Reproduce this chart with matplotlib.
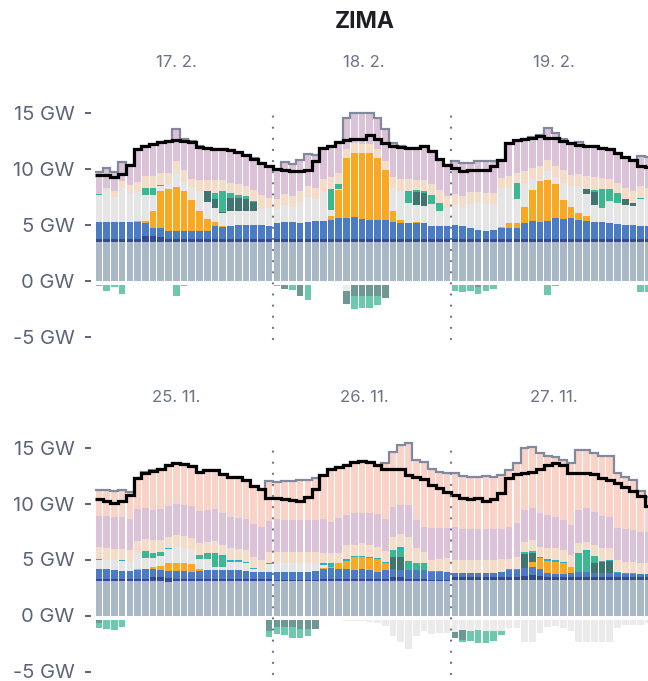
import matplotlib.pyplot as plt
import numpy as np

plt.rcParams['font.family'] = ['Inter', 'DejaVu Sans']

# colours of the stacked sources (bottom -> top)
c_nuclear = '#a9b8c7'
c_darkblue = '#34489b'
c_blue = '#4b7cc3'
c_solar = '#f9a824'
c_grey = '#e5e5e5'
c_darkteal = '#3f7571'
c_teal = '#3bb891'
c_cyan = '#23b1c3'
c_beige = '#f5dcc8'
c_lavender = '#dcc2d9'
c_pink = '#f9d2c8'

title = 'ZIMA'
feb_days = ['17. 2.', '18. 2.', '19. 2.']
nov_days = ['25. 11.', '26. 11.', '27. 11.']
ytick_vals = [-5, 0, 5, 10, 15]
ytick_labels = ['-5 GW', '0 GW', '5 GW', '10 GW', '15 GW']

# ---------------- February (GW per hour) ----------------
feb_nuclear = [3.4] * 72
feb_darkblue = [0.3, 0.3, 0.3, 0.3, 0.3, 0.3, 0.6, 0.6, 0.5, 0.3, 0.3, 0.3, 0.3, 0.3, 0.3, 0.3, 0.3, 0.3, 0.3, 0.3, 0.3, 0.3, 0.3,
                0.3, 0.3, 0.3, 0.3, 0.3, 0.3, 0.3, 0.35, 0.35, 0.35, 0.35, 0.35, 0.35, 0.35, 0.35, 0.35, 0.3, 0.3, 0.3, 0.3, 0.3, 0.3, 0.3,
                0.3, 0.3, 0.3, 0.3, 0.3, 0.3, 0.3, 0.3, 0.3, 0.35, 0.35, 0.35, 0.35, 0.35, 0.35, 0.35, 0.3, 0.3, 0.3, 0.3, 0.3, 0.3, 0.3, 0.3, 0.3, 0.3]
feb_blue = [1.5, 1.5, 1.5, 1.5, 1.5, 1.5, 1.15, 0.7, 0.8, 0.7, 0.7, 0.7, 0.7, 0.7, 0.75, 1.2, 1.05, 1.2, 1.25, 1.25, 1.25, 1.25, 1.2,
            1.45, 1.5, 1.5, 1.4, 1.5, 1.6, 1.6, 1.65, 1.8, 1.85, 1.95, 1.7, 1.65, 1.65, 1.65, 1.45, 1.45, 1.4, 1.4, 1.4, 1.2, 1.2, 1.2,
            1.3, 1.15, 1.0, 0.8, 0.7, 0.85, 1.0, 1.0, 1.0, 1.35, 1.55, 1.5, 1.55, 1.85, 1.75, 1.8, 1.7, 1.6, 1.5, 1.5, 1.4, 1.35, 1.3, 1.3, 1.15, 1.15]
feb_solar = [0, 0, 0, 0, 0, 0.1, 0.15, 1.55, 3.3, 3.75, 3.95, 3.6, 2.8, 1.8, 1.0, 0.35, 0.1, 0, 0, 0, 0, 0, 0,
             0, 0, 0, 0, 0, 0, 0, 0.35, 2.55, 5.3, 5.65, 5.9, 5.95, 5.5, 4.45, 1.0, 0.25, 0, 0.1, 0, 0, 0, 0,
             0, 0, 0, 0, 0, 0, 0.1, 0.4, 0.4, 1.5, 2.75, 3.65, 3.7, 3.05, 1.65, 1.05, 0.6, 0.5, 0.05, 0, 0, 0, 0, 0, 0, 0]
feb_grey = [2.45, 2.85, 2.25, 3.05, 2.6, 2.6, 2.35, 1.35, 0.45, 0.45, 1.25, 0.8, 1.15, 1.8, 1.6, 1.25, 1.15, 1.3, 1.25, 1.25, 1.25, 1.4, 1.6,
            1.2, 1.5, 1.35, 1.9, 2.25, 2.0, 2.7, 0.55, 0.1, 0, 0, 0, 0, 0, 0, 2.1, 2.6, 1.85, 1.5, 1.55, 1.95, 1.35, 1.6,
            1.7, 1.7, 2.1, 2.4, 2.4, 2.3, 3.45, 3.15, 2.2, 2.15, 0.95, 0.15, 0.75, 0.6, 1.6, 1.8, 2.4, 1.9, 1.45, 1.3, 2.0, 1.9, 1.7, 1.65, 2.45, 2.4]
feb_darkteal = [0, 0, 0, 0, 0, 0, 0, 0, 0, 0, 0, 0, 0, 0, 0.9, 0.75, 0.15, 1.2, 1.2, 1.05, 0.8, 0, 0,
                0, 0, 0, 0, 0, 0, 0, 0, 0, 0, 0, 0, 0, 0, 0, 0, 0, 0, 1.2, 1.15, 0, 0, 0,
                0, 0, 0, 0, 0, 0, 0, 0, 0, 0, 0, 0, 0, 0, 0, 0, 0, 0.5, 1.2, 0, 0, 0, 0.6, 0.3, 0, 0]
feb_teal = [0.05, 0.05, 0, 0, 0, 0, 0.65, 0.65, 0, 0, 0, 0, 0, 0, 0, 0.6, 1.8, 0.45, 0.2, 0.3, 0.1, 0, 0,
            0, 0.05, 0.05, 0, 0, 0, 0, 1.9, 0.4, 0, 0, 0, 0, 0, 0, 0, 0, 1.05, 0.15, 0.2, 0.8, 0.7, 0,
            0, 0.05, 0, 0, 0, 0, 0, 0, 1.4, 0, 0, 0, 0, 0, 0, 0, 0, 0, 0.2, 1.65, 1.05, 0.85, 0, 0, 0, 0]
feb_cyan = [0, 0, 0, 0, 0, 0, 0, 0, 0.05, 0, 0, 0, 0, 0, 0, 0, 0, 0, 0, 0, 0, 0, 0,
            0, 0, 0, 0, 0, 0, 0, 0, 0, 0, 0, 0, 0, 0, 0, 0, 0, 0, 0, 0, 0, 0, 0,
            0.05, 0, 0, 0, 0, 0, 0, 0, 0, 0, 0, 0, 0, 0, 0, 0, 0, 0, 0, 0, 0, 0, 0, 0, 0.05, 0]
feb_beige = [0, 0.15, 0.5, 0.6, 0.75, 0.9, 1.0, 1.05, 1.1, 1.0, 1.1, 1.05, 0.7, 1.0, 1.05, 1.1, 1.05, 0.9, 1.0, 0.9, 0.95, 1.25, 0.9,
             0.95, 1.0, 0.95, 1.0, 1.0, 1.0, 1.05, 1.0, 1.0, 0.8, 0.9, 0.8, 0.8, 0.85, 0.8, 0.9, 1.05, 1.05, 0.95, 1.0, 1.0, 1.1, 1.05,
             0.95, 0.95, 1.1, 1.0, 1.05, 1.0, 0.9, 1.05, 0.9, 1.05, 1.05, 1.2, 1.05, 1.0, 1.1, 1.0, 1.1, 1.1, 1.1, 1.0, 0.9, 0.95, 0.95, 1.05, 1.05, 1.0]
feb_lavender = [1.95, 1.8, 1.7, 1.75, 1.75, 2.95, 2.7, 2.9, 2.75, 2.85, 2.8, 2.8, 3.4, 3.0, 2.85, 2.8, 2.75, 2.9, 2.85, 2.8, 2.9, 2.9, 2.8,
                2.7, 2.85, 2.85, 2.75, 2.85, 2.95, 2.8, 2.8, 2.8, 2.8, 2.75, 2.85, 2.85, 2.75, 2.85, 3.1, 2.95, 2.8, 2.8, 3.0, 2.9, 2.75, 2.75,
                2.95, 2.95, 2.6, 2.75, 2.8, 2.8, 1.65, 2.95, 2.9, 2.8, 2.75, 2.7, 2.85, 2.9, 2.75, 2.9, 2.85, 2.75, 2.8, 2.7, 2.65, 2.65, 2.8, 2.75, 2.75, 2.75]
feb_pink = [0] * 72
feb_load = [9.46, 9.38, 9.26, 9.55, 10.3, 11.76, 12.05, 12.2, 12.35, 12.44, 12.53, 12.44, 12.35, 11.93, 11.85, 11.76, 11.76, 11.64, 11.46, 11.25, 10.86, 10.45, 10.2,
            10.0, 9.91, 9.76, 9.82, 9.91, 10.65, 11.84, 11.99, 12.35, 12.53, 12.65, 12.65, 12.95, 12.65, 12.29, 12.05, 11.9, 11.84, 11.84, 11.99, 11.55, 10.86, 10.27,
            10.06, 9.76, 9.85, 9.91, 9.91, 10.2, 10.8, 12.29, 12.53, 12.59, 12.74, 12.9, 12.74, 12.7, 12.44, 12.29, 12.14, 12.05, 12.0, 11.84, 11.7, 11.4, 11.04, 10.74, 10.21, 10.1]
# negative side (pumping / export), GW below zero
feb_neg_grey = [0] * 32 + [0.6] + [0] * 39
feb_neg_darkteal = [0, 0, 0, 0, 0, 0, 0, 0, 0, 0, 0, 0, 0, 0, 0, 0, 0, 0, 0, 0, 0, 0, 0,
                    0, 0.4, 0, 1.0, 0, 0, 0, 0, 0, 1.1, 1.0, 1.0, 1.0, 1.0, 1.15, 0, 0, 0, 0, 0, 0, 0, 0,
                    0, 0, 0, 0.25, 0, 0, 0, 0, 0, 0, 0, 0, 0, 0, 0, 0, 0, 0, 0, 0, 0, 0, 0, 0, 0, 0]
feb_neg_teal = [0.15, 0.55, 0.25, 0.85, 0, 0, 0, 0, 0, 0, 1.05, 0.1, 0, 0, 0, 0, 0, 0, 0, 0, 0, 0, 0,
                0.1, 0, 0.5, 0, 1.35, 0, 0, 0, 0, 0, 1.2, 1.1, 1.05, 0.8, 0, 0, 0, 0, 0, 0, 0, 0, 0,
                0.6, 0.7, 0.6, 0.55, 0.6, 0.4, 0, 0, 0, 0, 0, 0, 0.9, 0.15, 0, 0, 0, 0, 0, 0, 0, 0, 0, 0, 0.7, 0.7]

# ---------------- November (GW per hour) ----------------
nov_nuclear = [3.1] * 9 + [3.0] + [3.1] * 36 + [3.15] * 26
nov_darkblue = [0.12, 0.12, 0.12, 0.12, 0.12, 0.12, 0.12, 0.37, 0.3, 0.32, 0.13, 0.13, 0.13, 0.13, 0.2, 0.2, 0.2, 0.13, 0.13, 0.13, 0.13, 0.13, 0.13,
                0.1, 0.1, 0.1, 0.1, 0.1, 0.1, 0.15, 0.2, 0.2, 0.2, 0.2, 0.2, 0.2, 0.2, 0.2, 0.37, 0.37, 0.2, 0.2, 0.2, 0.1, 0.1, 0.1,
                0.3, 0.3, 0.3, 0.3, 0.3, 0.3, 0.3, 0.3, 0.3, 0.4, 0.45, 0.35, 0.3, 0.3, 0.3, 0.3, 0.3, 0.3, 0.3, 0.3, 0.3, 0.3, 0.3, 0.3, 0.3, 0.3]
nov_blue = [0.9, 0.9, 0.85, 0.77, 0.75, 0.83, 0.9, 0.65, 0.65, 0.68, 0.77, 0.77, 0.68, 0.77, 0.76, 0.76, 0.76, 0.83, 0.83, 0.77, 0.68, 0.68, 0.68,
            0.71, 0.71, 0.71, 0.71, 0.71, 0.75, 0.87, 0.9, 0.82, 0.82, 0.76, 0.82, 0.76, 0.61, 0.76, 0.65, 0.59, 0.76, 0.76, 0.76, 0.71, 0.71, 0.71,
            0.37, 0.37, 0.37, 0.37, 0.37, 0.37, 0.4, 0.61, 0.6, 0.66, 0.7, 0.62, 0.31, 0.3, 0.3, 0.35, 0.46, 0.4, 0.37, 0.37, 0.37, 0.37, 0.3, 0.3, 0.25, 0.25]
nov_solar = [0, 0, 0, 0, 0, 0.06, 0, 0.24, 0.36, 0.66, 0.71, 0.66, 0.66, 0.12, 0, 0, 0, 0, 0, 0, 0, 0, 0,
             0, 0, 0, 0, 0, 0, 0.15, 0.15, 0.54, 0.77, 1.19, 1.13, 1.04, 1.1, 0.6, 0, 0, 0, 0, 0, 0, 0, 0,
             0, 0, 0, 0, 0, 0, 0, 0, 0, 0, 0.51, 0.98, 1.13, 1.05, 0.96, 0.5, 0, 0, 0, 0, 0, 0, 0, 0, 0, 0]
nov_grey = [0.85, 0.83, 0.85, 0.9, 0.85, 1.45, 1.0, 0.75, 0.9, 1.27, 1.43, 1.33, 1.34, 0.92, 0.95, 0.25, 0.25, 0.74, 0.74, 0.66, 0.2, 0.12, 0.71,
            0.8, 0.8, 0.8, 0.75, 0.75, 0.7, 0.25, 0, 0, 0, 0, 0, 0, 0, 0, 0, 0, 0, 0, 0, 0, 0, 0,
            0, 0, 0, 0, 0, 0, 0, 0, 0, 0, 0, 0, 0, 0, 0, 0, 0, 0, 0, 0, 0, 0, 0, 0, 0, 0]
nov_darkteal = [0, 0, 0, 0, 0, 0, 0, 0, 0, 0, 0, 0, 0, 0, 0, 0, 0, 0, 0, 0, 0, 0, 0,
                0, 0, 0, 0, 0, 0, 0, 0, 0, 0, 0, 0, 0, 0, 0, 1.13, 1.19, 0, 0, 0, 0, 0, 0,
                0, 0, 0, 0, 0, 0, 0, 0, 0, 1.28, 0.74, 0, 0, 0, 0, 0, 0, 0, 0.89, 0.98, 1.07, 0, 0, 0, 0, 0]
nov_teal = [0, 0, 0, 0, 0, 0, 0.65, 0.45, 0.4, 0, 0, 0, 0, 0.36, 0.5, 1.2, 0.95, 0, 0, 0, 0, 0, 0,
            0, 0, 0, 0, 0, 0, 0, 0.15, 0, 0, 0, 0, 0, 0, 0, 0.6, 0.66, 0.74, 0.6, 0.55, 0, 0, 0,
            0, 0, 0, 0, 0, 0, 0, 0, 0, 0.21, 0.24, 0, 0, 0, 0, 0, 1.7, 1.85, 0.6, 0.1, 0, 0, 0, 0, 0, 0]
nov_cyan = [0.06, 0.05, 0.04, 0.04, 0, 0, 0, 0, 0, 0.06, 0, 0, 0, 0, 0.08, 0.1, 0.12, 0.12, 0.15, 0.1, 0.1, 0, 0.06,
            0, 0, 0, 0, 0, 0, 0.15, 0.2, 0.05, 0.12, 0.06, 0.06, 0.09, 0.12, 0.15, 0, 0.24, 0.1, 0, 0.05, 0.1, 0.1, 0,
            0, 0, 0, 0, 0, 0, 0.06, 0.12, 0.12, 0, 0, 0.15, 0.12, 0.15, 0.09, 0, 0, 0.15, 0, 0, 0.08, 0.1, 0.05, 0.05, 0, 0]
nov_beige = [1.05, 1.0, 1.0, 1.0, 1.05, 1.05, 1.05, 1.2, 1.05, 1.0, 1.05, 1.1, 0.98, 1.04, 1.0, 1.0, 0.9, 1.07, 0.98, 1.09, 1.04, 0.92, 1.0,
             1.0, 1.0, 1.0, 1.04, 1.04, 1.0, 0.95, 0.84, 0.84, 1.28, 0.98, 1.13, 1.1, 1.01, 0.98, 1.19, 1.12, 2.08, 1.33, 1.04, 0.98, 1.0, 1.19,
             1.13, 1.13, 1.13, 1.13, 1.13, 1.13, 1.1, 0.89, 1.05, 0.89, 0.95, 0.89, 0.99, 1.04, 1.05, 1.1, 0.83, 0.74, 0.98, 1.09, 1.02, 1.03, 1.0, 1.0, 0.96, 0.95]
nov_lavender = [2.8, 2.9, 2.85, 2.85, 2.75, 2.9, 2.75, 2.7, 2.75, 2.8, 2.77, 2.76, 2.88, 2.89, 2.85, 2.9, 2.84, 2.83, 2.77, 2.73, 2.92, 2.92, 2.8,
                2.88, 2.82, 2.82, 2.82, 2.85, 2.9, 2.97, 2.82, 3.12, 2.68, 2.89, 2.74, 2.83, 2.92, 2.79, 2.68, 2.59, 2.88, 2.53, 2.23, 2.83, 2.8, 2.74,
                2.92, 2.74, 2.74, 2.74, 2.74, 2.74, 2.75, 2.86, 3.0, 2.83, 2.83, 2.98, 2.97, 2.77, 2.67, 2.68, 2.98, 2.98, 2.98, 2.89, 2.77, 2.83, 2.89, 2.83, 2.82, 2.8]
nov_pink = [2.3, 2.3, 2.3, 2.4, 2.4, 2.75, 3.2, 3.5, 3.55, 3.65, 3.63, 3.66, 3.58, 3.51, 3.55, 3.48, 3.51, 3.57, 3.63, 3.52, 3.39, 3.39, 3.55,
            3.37, 3.52, 3.52, 3.58, 3.55, 3.69, 3.96, 4.68, 4.56, 4.46, 4.55, 4.64, 4.61, 4.37, 5.0, 4.9, 5.36, 5.57, 5.36, 5.8, 5.3, 4.97, 4.85,
            4.82, 4.76, 4.7, 4.7, 4.76, 4.7, 4.78, 5.06, 5.36, 5.5, 5.5, 5.36, 5.27, 5.42, 5.36, 5.56, 5.35, 5.2, 5.21, 5.36, 5.48, 4.97, 4.7, 4.47, 3.66, 3.16]
nov_load = [10.37, 10.22, 10.07, 10.25, 10.76, 12.24, 12.75, 12.93, 13.05, 13.43, 13.58, 13.52, 13.35, 12.84, 12.99, 12.99, 12.63, 12.39, 12.39, 12.1, 11.56, 11.26, 10.46,
            10.46, 10.4, 10.31, 10.25, 10.61, 11.26, 12.54, 13.05, 13.23, 13.43, 13.73, 13.82, 13.73, 13.43, 13.05, 13.05, 13.05, 12.54, 12.33, 12.15, 11.65, 11.35, 11.05,
            10.8, 10.46, 10.37, 10.46, 10.25, 10.37, 10.97, 12.24, 12.63, 12.69, 12.84, 13.05, 13.43, 13.58, 13.43, 12.75, 12.75, 12.75, 12.63, 12.24, 12.1, 11.8, 11.44, 11.14, 10.67, 9.77]
nov_neg_grey = [0, 0, 0, 0, 0.06, 0, 0, 0, 0, 0, 0, 0, 0, 0, 0, 0, 0, 0, 0, 0, 0, 0, 0,
                0, 0, 0, 0, 0, 0, 0, 0, 0, 0.1, 0.1, 0.15, 0.25, 0.3, 0.6, 1.5, 2.0, 2.6, 1.5, 1.05, 1.3, 1.2, 1.2,
                1.1, 0.9, 1.05, 0.95, 1.05, 1.05, 1.05, 0.75, 0.75, 2.0, 2.0, 1.2, 0.7, 0.6, 0.75, 1.0, 2.0, 2.0, 2.0, 2.0, 2.0, 0.75, 0.5, 0.5, 0.45, 0.3]
nov_neg_darkteal = [0.3, 0, 0, 0, 0, 0, 0, 0, 0, 0, 0, 0, 0, 0, 0, 0, 0, 0, 0, 0, 0, 0, 1.05,
                    0.7, 0.7, 0.7, 0.8, 0.85, 0.8, 0, 0, 0, 0, 0, 0, 0, 0, 0, 0, 0, 0, 0, 0, 0, 0, 0,
                    0.5, 0.9, 0, 0, 0, 0, 0, 0, 0, 0, 0, 0, 0, 0, 0, 0, 0, 0, 0, 0, 0, 0, 0, 0, 0, 0]
nov_neg_teal = [0.45, 0.8, 0.95, 0.7, 0, 0, 0, 0, 0, 0, 0, 0, 0, 0, 0, 0, 0, 0, 0, 0, 0, 0, 0.5,
                0.6, 0.65, 0.9, 0.85, 0.6, 0, 0, 0, 0, 0, 0, 0, 0, 0, 0, 0, 0, 0, 0, 0, 0, 0, 0,
                0, 0.2, 0.9, 1.15, 1.05, 0.85, 0.35, 0, 0, 0, 0, 0, 0, 0, 0, 0, 0, 0, 0, 0, 0, 0, 0, 0, 0, 0]

pos_colors = [c_nuclear, c_darkblue, c_blue, c_solar, c_grey, c_darkteal, c_teal, c_cyan, c_beige, c_lavender, c_pink]
neg_colors = [c_grey, c_darkteal, c_teal]

# figure geometry in pixels (648 x 681)
W, H = 648, 681
px_per_gw = 11.2
px_per_h = 7.74
ax_left = 95
ymin, ymax = -5.5, 15.7
neg_gap = 0.37  # small white gap between zero and the negative stack


def draw_panel(ax, pos_layers, neg_layers, load, days):
    x = np.arange(len(load))
    bottom = np.zeros(len(x))
    for vals, col in zip(pos_layers, pos_colors):
        vals = np.array(vals, dtype=float)
        ax.bar(x, vals, bottom=bottom, width=0.86, color=col, linewidth=0)
        bottom += vals
    total = bottom.copy()
    nbottom = np.full(len(x), -neg_gap)
    for vals, col in zip(neg_layers, neg_colors):
        vals = np.array(vals, dtype=float)
        ax.bar(x, -vals, bottom=nbottom, width=0.86, color=col, alpha=0.75, linewidth=0)
        nbottom -= vals

    edges = np.arange(len(x) + 1) - 0.5
    ax.stairs(total, edges, baseline=None, color='#818a9d', lw=1.6, zorder=3)
    ax.stairs(load, edges, baseline=None, color='black', lw=2.3, zorder=4)

    # day separators
    for xd in [22.5, 45.5]:
        ax.plot([xd, xd], [-5.2, 15.1], color='#6d7487', lw=1.7,
                linestyle=(0, (0.01, 4.7)), dash_capstyle='round', zorder=5, clip_on=False)
    for xd, lab in zip([10.0, 34.25, 58.8], days):
        ax.text(xd, 19.5, lab, ha='center', va='center', fontsize=12, color='#6b7385', clip_on=False)

    ax.set_xlim(-0.5, -0.5 + (W - ax_left) / px_per_h)
    ax.set_ylim(ymin, ymax)
    ax.set_yticks(ytick_vals)
    ax.set_yticklabels(ytick_labels)
    ax.set_xticks([])
    for s in ax.spines.values():
        s.set_visible(False)
    ax.spines['left'].set_position(('outward', 3))
    ax.tick_params(axis='y', length=4.3, width=1.4, color='#5c6478', pad=7.5,
                   labelsize=14.5, labelcolor='#5c6478')


fig = plt.figure(figsize=(W / 100, H / 100), dpi=100)
h_frac = (ymax - ymin) * px_per_gw / H
for zero_px, layers, negs, load, days in [
        (280.5, [feb_nuclear, feb_darkblue, feb_blue, feb_solar, feb_grey, feb_darkteal, feb_teal, feb_cyan, feb_beige, feb_lavender, feb_pink],
         [feb_neg_grey, feb_neg_darkteal, feb_neg_teal], feb_load, feb_days),
        (615.5, [nov_nuclear, nov_darkblue, nov_blue, nov_solar, nov_grey, nov_darkteal, nov_teal, nov_cyan, nov_beige, nov_lavender, nov_pink],
         [nov_neg_grey, nov_neg_darkteal, nov_neg_teal], nov_load, nov_days)]:
    bottom_px = zero_px - ymin * px_per_gw
    ax = fig.add_axes([ax_left / W, 1 - bottom_px / H, (W - ax_left) / W, h_frac])
    draw_panel(ax, layers, negs, load, days)

fig.text(365 / W, 1 - 22 / H, title, ha='center', va='center', fontsize=16.5, fontweight='bold', color='#1e1f24')

fig.savefig('out.png', dpi=100)
